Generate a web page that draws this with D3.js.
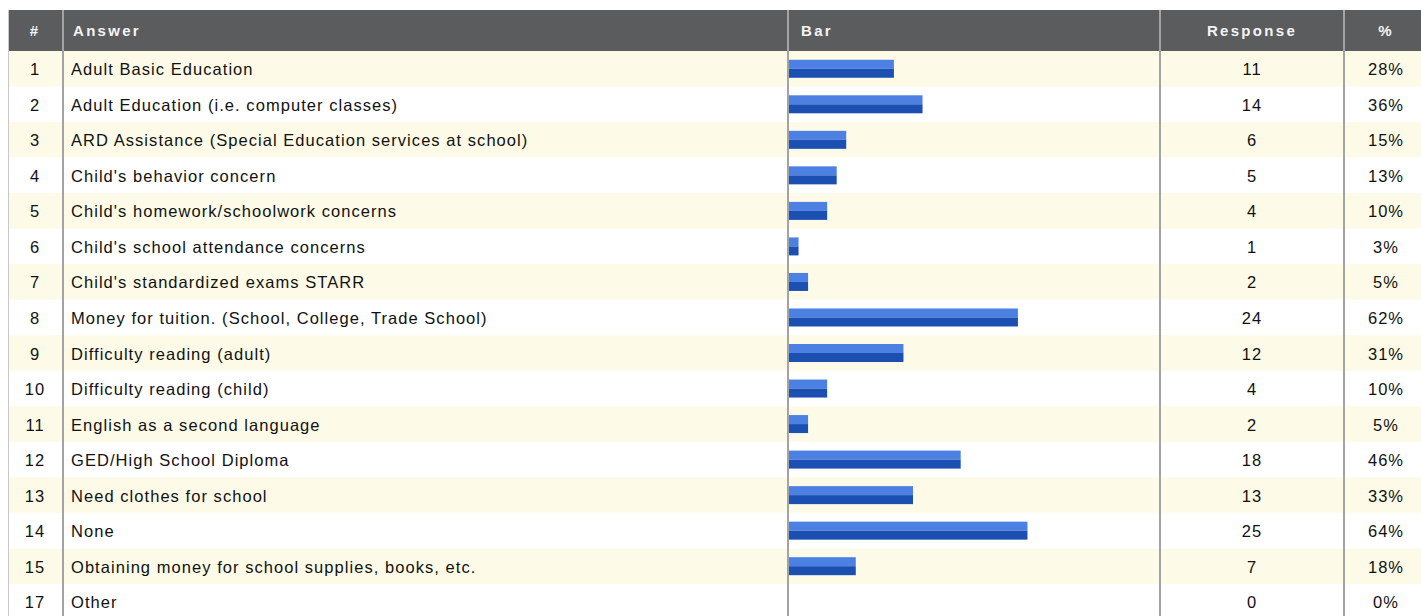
<!DOCTYPE html>
<html>
<head>
<meta charset="utf-8">
<script src="https://cdn.jsdelivr.net/npm/d3@7"></script>
<style>
body{margin:0;background:#fff;}
svg{display:block;}
</style>
</head>
<body>
<script>
const svg_width = 1421, svg_height = 616;
// data
var ids = ["1","2","3","4","5","6","7","8","9","10","11","12","13","14","15","17"];
var answers = ["Adult Basic Education",
  "Adult Education (i.e. computer classes)",
  "ARD Assistance (Special Education services at school)",
  "Child's behavior concern",
  "Child's homework/schoolwork concerns",
  "Child's school attendance concerns",
  "Child's standardized exams STARR",
  "Money for tuition. (School, College, Trade School)",
  "Difficulty reading (adult)",
  "Difficulty reading (child)",
  "English as a second language",
  "GED/High School Diploma",
  "Need clothes for school",
  "None",
  "Obtaining money for school supplies, books, etc.",
  "Other"];
var responses = [11,14,6,5,4,1,2,24,12,4,2,18,13,25,7,0];
var percents = [28,36,15,13,10,3,5,62,31,10,5,46,33,64,18,0];
var headers = ["#","Answer","Bar","Response","%"];
var totalRespondents = 39;

var rows = ids.map(function(d,i){
  return {id:d, answer:answers[i], response:responses[i], pct:percents[i]};
});

var svg = d3.select("body").append("svg")
  .attr("width",svg_width).attr("height",svg_height);

const left = 8, head_top = 10, head_h = 41, row_h = 35.53;
const col_x = [left, 63, 788, 1160, 1344, svg_width];
var yScale = d3.scaleBand().domain(ids).range([head_top+head_h, head_top+head_h+row_h*ids.length]).padding(0);
var barScale = d3.scaleLinear().domain([0,totalRespondents]).range([0, col_x[3]-col_x[2]]);

// row backgrounds
svg.append("g").selectAll("rect").data(rows).enter().append("rect")
  .attr("x",left).attr("y",function(d){return yScale(d.id)})
  .attr("width",svg_width-left).attr("height",yScale.bandwidth()+0.5)
  .style("fill",function(d,i){return i%2==0 ? "#fdfbe7" : "#ffffff"});

// header
svg.append("rect").attr("x",left).attr("y",head_top).attr("width",svg_width-left).attr("height",head_h)
  .style("fill","#5b5c5e");

var headX = [35, 73, 801, 1252, 1386];
var headAnchor = ["middle","start","start","middle","middle"];
svg.append("g").selectAll("text").data(headers).enter().append("text")
  .attr("x",function(d,i){return headX[i]})
  .attr("y",head_top+head_h/2+5.5)
  .attr("text-anchor",function(d,i){return headAnchor[i]})
  .style("font-family","'Liberation Sans', Arial, sans-serif")
  .style("font-size","15px").style("font-weight","bold")
  .style("letter-spacing","2.3px")
  .style("fill","#f4f4f4")
  .text(function(d){return d});

// bars
var barGroup = svg.append("g");
var bar_h = 18;
barGroup.selectAll("rect.top").data(rows).enter().append("rect")
  .attr("class","top")
  .attr("x",col_x[2]+1)
  .attr("y",function(d){return yScale(d.id)+yScale.bandwidth()/2-bar_h/2})
  .attr("width",function(d){return barScale(d.response)})
  .attr("height",bar_h/2)
  .style("fill","#4d80e3");
barGroup.selectAll("rect.bot").data(rows).enter().append("rect")
  .attr("class","bot")
  .attr("x",col_x[2]+1)
  .attr("y",function(d){return yScale(d.id)+yScale.bandwidth()/2})
  .attr("width",function(d){return barScale(d.response)})
  .attr("height",bar_h/2)
  .style("fill","#1b4fb2");

// cell text
var textGroup = svg.append("g")
  .style("font-family","'Liberation Sans', Arial, sans-serif")
  .style("font-size","16.5px").style("fill","#111")
  .style("letter-spacing","1.05px");
function addCol(xPos, anchor, fn){
  textGroup.append("g").selectAll("text").data(rows).enter().append("text")
    .attr("x",xPos).attr("text-anchor",anchor)
    .attr("y",function(d){return yScale(d.id)+yScale.bandwidth()/2+6.5})
    .text(fn);
}
addCol(35,"middle",function(d){return d.id});
addCol(71,"start",function(d){return d.answer});
addCol(1252,"middle",function(d){return d.response});
addCol(1386,"middle",function(d){return d.pct+"%"});

// vertical dividers
svg.append("line").attr("x1",left+0.5).attr("x2",left+0.5).attr("y1",head_top).attr("y2",svg_height)
  .attr("stroke","#c8c8c8").attr("stroke-width",1);
svg.append("g").selectAll("line").data(col_x.slice(1,5)).enter().append("line")
  .attr("x1",function(d){return d}).attr("x2",function(d){return d})
  .attr("y1",head_top).attr("y2",svg_height)
  .attr("stroke","#a3a3a3").attr("stroke-width",2);
</script>
</body>
</html>
